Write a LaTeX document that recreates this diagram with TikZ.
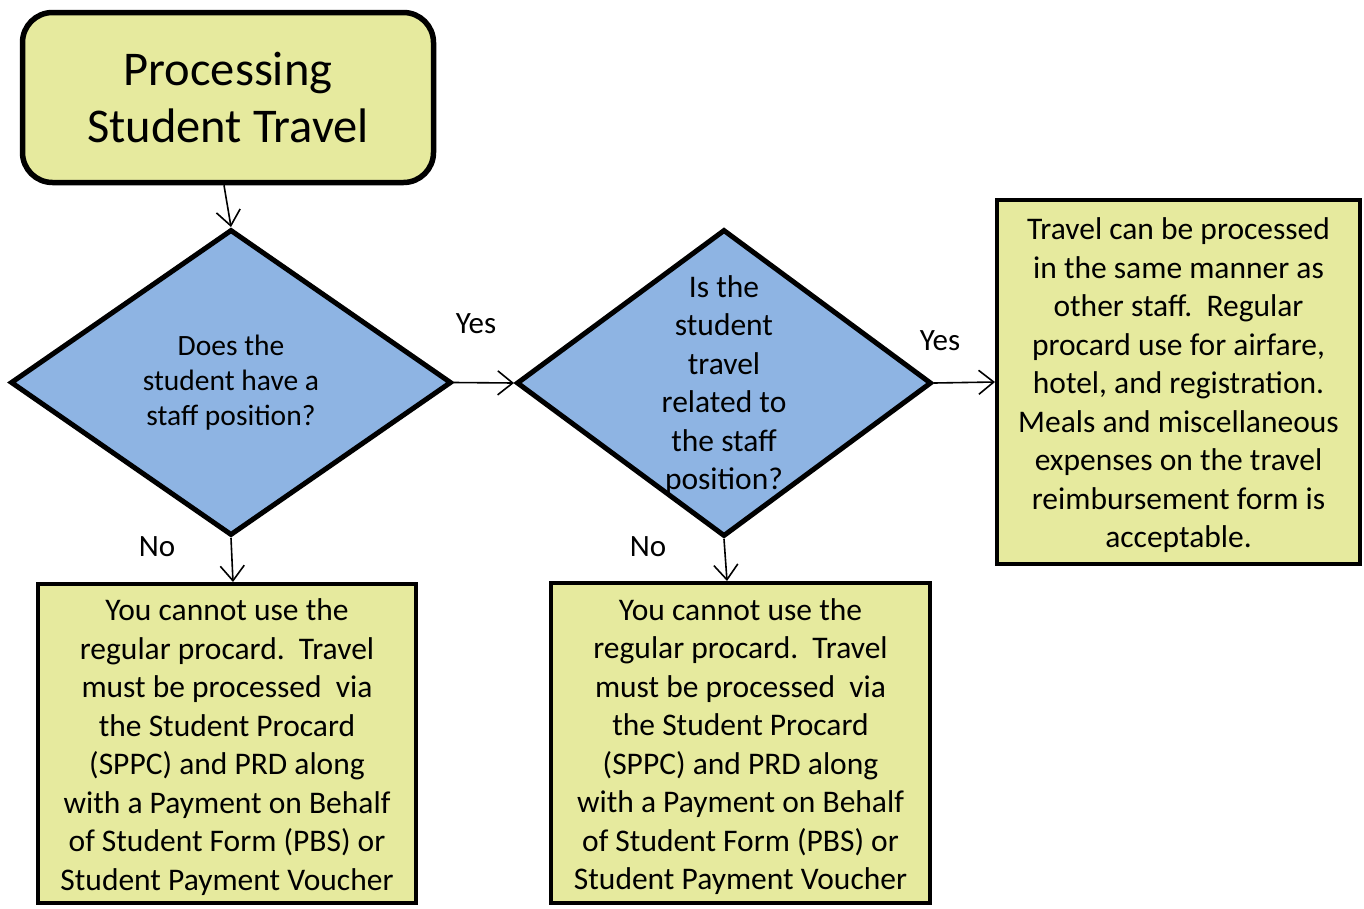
\documentclass[tikz,border=0pt]{standalone}
\usepackage{fontspec}
\setmainfont{Carlito}
\usetikzlibrary{arrows.meta,shapes.geometric}
\definecolor{boxfill}{RGB}{230,234,158}
\definecolor{decfill}{RGB}{142,180,227}
% extra room above the first line of a box text
\newcommand\firstlinegap{\rule{0pt}{29pt}}
\tikzset{
  titlebox/.style={draw=black, line width=5.5pt, fill=boxfill, rounded corners=30pt,
    align=center, inner sep=0pt, font=\fontsize{48.5}{57}\selectfont},
  infobox/.style={draw=black, line width=4pt, fill=boxfill, align=center, inner sep=0pt,
    font=\fontsize{31.5}{38.5}\selectfont},
  decision/.style={draw=black, line width=5pt, fill=decfill, diamond, inner sep=0pt},
  decisiontext/.style={align=center, inner sep=0pt},
  flow/.style={line width=1.6pt, -{Straight Barb[length=15pt,width=24pt,line width=1.6pt]}},
  answer/.style={font=\fontsize{31}{36}\selectfont, inner sep=0pt}
}
\begin{document}
\begin{tikzpicture}[x=1pt,y=-1pt]
\useasboundingbox (0,0) rectangle (1364,908);

% start box
\node[titlebox, minimum width=411pt, minimum height=170pt] (title) at (228,97.5)
  {Processing\\Student Travel};

% decisions: the diamond outlines, then their questions on top
\node[decision, minimum width=441pt, minimum height=306pt] (d1) at (231,382.5) {};
\node[decisiontext, font=\fontsize{29.5}{35}\selectfont] (q1) at (d1.center)
  {Does the\\student have a\\staff position?};
\node[decision, minimum width=415pt, minimum height=307pt] (d2) at (724,383) {};
\node[decisiontext, font=\fontsize{31.5}{38.5}\selectfont] (q2) at ([yshift=-2pt]d2.center)
  {Is the\\student\\travel\\related to\\the staff\\position?};

% outcomes
\node[infobox, minimum width=363pt, minimum height=364pt] (yesbox) at (1178.5,382)
  {\firstlinegap Travel can be processed\\in the same manner as\\other staff.\ \ Regular\\procard use for airfare,\\hotel, and registration.\\Meals and miscellaneous\\expenses on the travel\\reimbursement form is\\acceptable.};
\node[infobox, minimum width=378pt, minimum height=319pt] (nobox1) at (227,743.5)
  {\firstlinegap You cannot use the\\regular procard.\ \ Travel\\must be processed\ \ via\\the Student Procard\\(SPPC) and PRD along\\with a Payment on Behalf\\of Student Form (PBS) or\\Student Payment Voucher};
\node[infobox, minimum width=379pt, minimum height=320pt] (nobox2) at (740.5,743)
  {\firstlinegap You cannot use the\\regular procard.\ \ Travel\\must be processed\ \ via\\the Student Procard\\(SPPC) and PRD along\\with a Payment on Behalf\\of Student Form (PBS) or\\Student Payment Voucher};

% connectors
\draw[flow] ([xshift=-4pt]title.south) -- (d1.north);
\draw[flow] (d1.east) -- (d2.west);
\draw[flow] (d2.east) -- (yesbox.west);
\draw[flow] (d1.south) -- ([xshift=6pt]nobox1.north);
\draw[flow] (d2.south) -- ([xshift=-13.5pt]nobox2.north);

% branch labels
\node[answer] (yes1) at (476,324) {Yes};
\node[answer] (yes2) at (940,341) {Yes};
\node[answer] (no1) at (157,547) {No};
\node[answer] (no2) at (648,547) {No};
\end{tikzpicture}
\end{document}
